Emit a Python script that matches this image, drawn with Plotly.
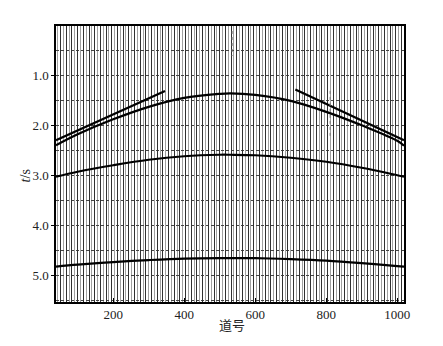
import plotly.graph_objects as go

# --- data ---
# hyperbolic reflection events (trace number, time s)
ev_x = [39, 100, 200, 300, 400, 500, 530, 600, 700, 800, 900, 1000, 1019]
ev1_t = [2.39, 2.17, 1.87, 1.62, 1.44, 1.36, 1.35, 1.38, 1.50, 1.72, 1.99, 2.30, 2.40]
ev2_t = [3.02, 2.92, 2.79, 2.68, 2.61, 2.58, 2.58, 2.59, 2.64, 2.72, 2.84, 2.99, 3.02]
ev3_t = [4.82, 4.78, 4.73, 4.69, 4.66, 4.65, 4.65, 4.65, 4.67, 4.70, 4.75, 4.81, 4.82]
# linear events
lin_left_x = [39, 346]
lin_left_t = [2.29, 1.30]
lin_right_x = [713, 1019]
lin_right_t = [1.27, 2.29]
# faint dashed artefacts
art1_x = [535, 535]
art1_t = [0.1, 0.6]
art2_x = [811, 811]
art2_t = [1.3, 2.2]

xticks = [200, 400, 600, 800, 1000]
yticks = [1.0, 2.0, 3.0, 4.0, 5.0]
yticktext = ["1.0", "2.0", "3.0", "4.0", "5.0"]

fig = go.Figure()

# invisible trace on overlay axis so its grid is drawn
fig.add_trace(go.Scatter(x=[39, 1019], y=[0, 0], xaxis="x2", mode="markers",
                         marker=dict(opacity=0), hoverinfo="skip", showlegend=False))

for tvals in (ev1_t, ev2_t, ev3_t):
    fig.add_trace(go.Scatter(x=ev_x, y=tvals, mode="lines",
                             line=dict(color="black", width=2.2, shape="spline"),
                             showlegend=False))
for xs, ts in ((lin_left_x, lin_left_t), (lin_right_x, lin_right_t)):
    fig.add_trace(go.Scatter(x=xs, y=ts, mode="lines", line=dict(color="black", width=2.2),
                             showlegend=False))
for xs, ts in ((art1_x, art1_t), (art2_x, art2_t)):
    fig.add_trace(go.Scatter(x=xs, y=ts, mode="lines", line=dict(color="#777", width=1, dash="dot"),
                             showlegend=False))

font = dict(family="Liberation Serif, Times New Roman, serif", size=13, color="#222")

# page body has an 8px default margin, so the figure is sized to end at 443x346
fig.update_layout(
    width=435, height=338,
    margin=dict(l=48, r=39, t=18, b=44),
    paper_bgcolor="white", plot_bgcolor="white",
    font=font,
    xaxis=dict(range=[39, 1019], tickvals=xticks, ticks="inside", ticklen=4, tickcolor="black",
               showline=True, linecolor="black", linewidth=1.5, mirror=True,
               showgrid=False, zeroline=False,
               minor=dict(dtick=8, tick0=4, showgrid=True, gridcolor="#a0a0a0", gridwidth=1, ticks="")),
    xaxis2=dict(range=[39, 1019], overlaying="x", showticklabels=False, ticks="",
                showgrid=True, dtick=16, tick0=4, gridcolor="#303030", gridwidth=1, zeroline=False,
                showline=False),
    yaxis=dict(range=[5.53, 0], tickvals=yticks, ticktext=yticktext, ticks="outside", ticklen=3,
               tickcolor="black", showline=True, linecolor="black", linewidth=1.5, mirror=True,
               showgrid=True, gridcolor="#444", gridwidth=1, griddash="3px,2px", zeroline=False,
               minor=dict(dtick=0.5, tick0=0, showgrid=True, gridcolor="#444", gridwidth=1,
                          griddash="3px,2px", ticks="")),
    annotations=[
        dict(text="<i>t</i>/s", x=-0.088, y=0.4565, xref="paper", yref="paper", textangle=-90,
             xanchor="center", yanchor="middle",
             showarrow=False, font=dict(family="Liberation Serif, serif", size=14, color="#222")),
        dict(text="道号", x=0.506, y=-0.083, xref="paper", yref="paper", showarrow=False,
             xanchor="center", yanchor="middle",
             font=dict(family="Noto Sans CJK SC", size=13, color="#222")),
    ],
)

fig.write_html("out.html")
